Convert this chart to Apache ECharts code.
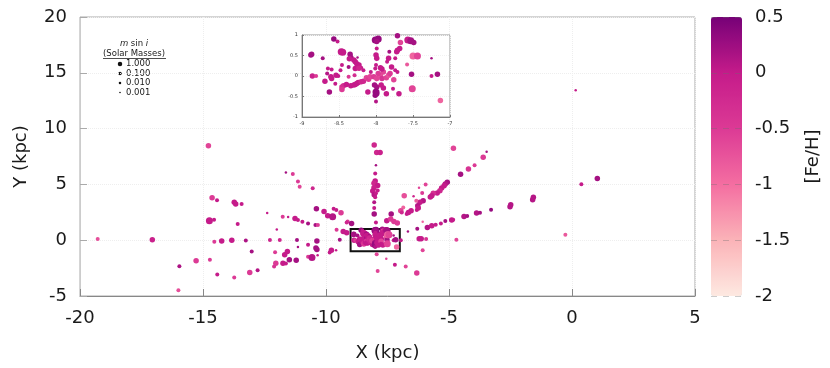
<!DOCTYPE html>
<html>
<head>
<meta charset="utf-8">
<script src="https://cdn.jsdelivr.net/npm/echarts@6/dist/echarts.min.js"></script>
<style>
  html, body { margin: 0; background: #fff; }
  #chart { width: 830px; height: 368px; }
</style>
</head>
<body>
<div id="chart"></div>
<script>
// each point: [X (kpc), Y (kpc), m sin i (solar masses), [Fe/H]]
var outerPoints = [
  [-14.78, 8.46, 0.1, -0.6], [-19.28, 0.1, 0.01, -0.7], [-17.06, 0.04, 0.1, -0.1],
  [-15.96, -2.33, 0.01, 0.15], [-16.0, -4.49, 0.01, -0.7], [-15.28, -1.85, 0.1, -0.5],
  [-14.74, 1.74, 1, 0], [-14.55, 1.83, 0.01, 0], [-14.63, 3.81, 0.1, -0.5],
  [-14.43, 3.57, 0.01, 0], [-14.54, -0.14, 0.01, -0.5], [-14.24, -0.08, 0.1, 0],
  [-13.83, 0.0, 0.1, 0], [-13.26, -0.03, 0.01, 0.15], [-14.72, -1.76, 0.01, -0.5],
  [-14.42, -3.08, 0.01, 0], [-13.73, -3.35, 0.01, -0.5], [-13.1, -2.9, 0.1, -0.5],
  [-12.78, -2.69, 0.01, 0.1], [-13.02, -1.01, 0.01, 0.2], [-13.73, 3.39, 0.1, 0],
  [-13.67, 3.24, 0.1, 0], [-13.43, 3.24, 0.01, 0], [-13.59, 1.45, 0.01, 0],
  [-12.39, 2.44, 0.001, 0], [-12.0, 0.96, 0.001, 0], [-12.28, 0.01, 0.01, -0.2],
  [-11.88, 0.01, 0.01, -0.2], [-11.18, 0.02, 0.01, 0.2], [-10.37, -0.08, 0.1, 0.2],
  [-11.63, 6.06, 0.001, 0.2], [-11.35, 5.94, 0.01, -0.5], [-11.14, 5.25, 0.01, -0.5],
  [-11.07, 4.8, 0.01, -0.6], [-10.54, 4.65, 0.01, -0.2], [-11.76, 2.1, 0.01, -0.5],
  [-11.54, 2.08, 0.001, 0], [-11.26, 1.95, 0.1, 0], [-11.14, 1.81, 0.01, 0],
  [-10.96, 1.65, 0.01, 0], [-10.73, 1.5, 0.01, 0.2], [-10.43, 1.36, 0.01, 0.2],
  [-10.33, 1.36, 0.01, -0.5], [-10.39, 2.82, 0.1, 0.2], [-10.08, 2.58, 0.1, 0],
  [-9.93, 2.19, 0.1, 0], [-9.73, 2.1, 1, 0.1], [-9.69, 2.82, 0.01, 0],
  [-9.58, 2.71, 0.01, 0], [-9.39, 2.46, 0.1, -0.5], [-9.12, 1.68, 0.01, -0.5],
  [-9.57, 0.94, 0.01, -0.5], [-9.3, 0.78, 0.1, 0], [-9.16, 0.67, 0.1, 0],
  [-9.44, 0.04, 0.01, 0.2], [-11.14, -0.62, 0.001, 0.2], [-10.73, -0.41, 0.01, 0],
  [-10.41, -0.71, 0.1, 0.2], [-10.37, -0.84, 0.1, 0.2], [-11.57, -1.01, 0.1, 0],
  [-11.68, -1.31, 0.1, 0], [-12.07, -1.07, 0.01, -0.5], [-12.04, -2.06, 0.1, -0.5],
  [-12.11, -2.36, 0.01, -0.4], [-11.75, -2.06, 0.1, 0], [-11.63, -2.09, 0.01, 0],
  [-11.49, -1.76, 0.1, 0.2], [-11.21, -1.79, 0.1, 0.2], [-10.73, -1.49, 0.01, -0.5],
  [-10.57, -1.55, 1, 0.1], [-10.34, -1.34, 0.001, 0], [-9.85, -1.1, 0.01, 0],
  [-9.78, -0.89, 0.1, 0], [-9.59, -0.89, 0.001, 0], [-9.16, 1.59, 0.01, -0.2]
];

var armPoints = [
  [-8.96, 1.5, 0.1, 0.2], [-7.94, -1.25, 0.01, -0.6], [-7.55, -1.67, 0.001, -0.6],
  [-7.9, -2.75, 0.01, -0.6], [-7.2, -2.21, 0.01, 0], [-6.76, -2.36, 0.01, -0.6],
  [-6.31, -2.93, 0.1, -0.5], [-6.67, 0.78, 0.001, 0.2], [-6.29, 1.02, 0.01, 0.2],
  [-6.21, 0.13, 0.1, 0], [-6.13, 0.13, 0.1, 0], [-5.93, 0.1, 0.01, -0.4],
  [-6.96, 0.0, 0.01, 0], [-6.07, -0.89, 0.01, -0.6], [-4.7, 0.04, 0.01, -0.6],
  [-0.27, 0.49, 0.01, -0.8], [0.38, 5.01, 0.01, 0], [0.15, 13.43, 0.001, 0],
  [1.03, 5.52, 0.1, 0.2],
  [-8.04, 8.52, 0.1, -0.2], [-7.94, 7.86, 0.1, -0.2], [-7.8, 7.86, 0.1, -0.1],
  [-7.97, 6.72, 0.001, 0.2], [-8.0, 5.97, 0.01, 0], [-8.0, 5.3, 0.1, 0],
  [-8.05, 5.1, 0.1, -0.2], [-7.9, 4.9, 0.1, 0], [-8.05, 4.7, 0.1, -0.1],
  [-8.1, 4.4, 0.1, 0], [-7.9, 4.45, 0.01, 0], [-8.04, 4.08, 0.1, 0.1],
  [-7.97, 4.2, 0.01, 0], [-8.0, 3.84, 0.01, 0], [-8.04, 3.39, 0.01, 0.1],
  [-8.04, 2.89, 0.01, 0], [-8.04, 2.35, 0.1, 0.2], [-7.97, 1.59, 0.01, 0],
  [-4.82, 8.25, 0.1, -0.6], [-3.47, 7.92, 0.001, 0.2], [-3.61, 7.44, 0.1, -0.5],
  [-3.96, 6.72, 0.01, -0.5], [-4.21, 6.39, 0.1, -0.4], [-4.53, 5.91, 0.1, 0.2],
  [-5.07, 5.19, 0.1, 0.2], [-5.15, 5.04, 0.1, 0.1], [-5.2, 4.89, 0.1, 0],
  [-5.3, 4.68, 0.1, 0], [-5.37, 4.44, 0.1, -0.2], [-5.48, 4.24, 0.1, 0],
  [-5.64, 4.2, 0.1, -0.3], [-5.7, 3.99, 0.1, 0], [-5.76, 3.88, 0.1, 0],
  [-5.95, 4.98, 0.01, -0.6], [-6.22, 4.69, 0.001, -0.6], [-6.09, 4.24, 0.01, -0.5],
  [-6.44, 3.93, 0.001, -0.2], [-6.82, 3.99, 0.1, -0.7], [-6.05, 3.54, 0.1, 0.1],
  [-6.18, 3.39, 0.1, 0], [-6.27, 3.09, 0.1, 0.1], [-6.25, 2.89, 0.1, 0],
  [-6.31, 2.71, 0.01, 0], [-6.33, 3.54, 0.01, -0.8], [-6.54, 2.64, 0.1, 0],
  [-6.65, 2.49, 0.1, 0], [-6.72, 2.35, 0.01, 0], [-6.86, 2.94, 0.01, -0.9],
  [-6.96, 2.64, 0.1, -0.6], [-6.92, 2.49, 0.01, -0.2], [-7.35, 2.35, 0.1, 0.2],
  [-7.53, 1.74, 0.1, 0], [-7.37, 1.9, 0.1, -0.5], [-7.24, 1.68, 0.1, -0.5],
  [-7.1, 1.54, 0.1, -0.5], [-6.07, 1.65, 0.001, -0.9],
  [-5.88, 1.14, 0.1, 0.1], [-5.7, 1.29, 0.1, 0], [-5.54, 1.38, 0.01, 0],
  [-5.33, 1.5, 0.01, 0], [-5.15, 1.72, 0.01, 0.2], [-4.89, 1.81, 0.1, 0],
  [-4.83, 1.83, 0.01, 0], [-4.39, 2.13, 0.1, 0.1], [-4.26, 2.17, 0.01, 0.2],
  [-3.88, 2.44, 0.1, 0.1], [-3.74, 2.46, 0.01, 0.2], [-3.29, 2.73, 0.01, 0.3],
  [-2.49, 3.18, 0.1, 0.1], [-2.52, 3.0, 0.1, 0.1], [-1.57, 3.84, 0.1, 0.1],
  [-1.6, 3.63, 0.1, 0.1]
];

var centralPoints = [
  [-8.57, 0.9, 0.1, 0.3], [-8.52, 0.84, 0.01, 0], [-8.88, 0.51, 0.1, 0.2],
  [-8.87, 0.53, 0.1, 0.2], [-8.72, 0.43, 0.01, 0.2], [-8.86, 0.0, 0.1, -0.1],
  [-8.81, 0.0, 0.01, -0.5], [-8.69, -0.13, 0.1, 0], [-8.65, 0.18, 0.01, 0],
  [-8.6, 0.16, 0.01, 0], [-8.66, 0.06, 0.01, 0.1], [-8.61, -0.02, 0.1, 0],
  [-8.6, -0.06, 0.1, 0], [-8.54, 0.02, 0.1, 0], [-8.51, 0.0, 0.01, 0],
  [-8.63, -0.39, 0.1, 0.2], [-8.55, -0.19, 0.01, 0], [-8.47, 0.59, 1, 0],
  [-8.45, 0.58, 1, 0], [-8.46, 0.27, 0.01, 0], [-8.48, 0.14, 0.01, 0],
  [-8.46, -0.27, 0.1, -0.4], [-8.44, -0.24, 0.1, -0.3], [-8.46, -0.33, 0.1, -0.5],
  [-8.4, -0.21, 0.1, 0], [-8.35, 0.53, 0.1, 0.2], [-8.34, 0.45, 0.1, 0.2],
  [-8.36, 0.42, 0.1, 0], [-8.37, 0.22, 0.01, 0.2], [-8.37, -0.02, 0.01, -0.5],
  [-8.34, -0.24, 0.1, 0], [-8.3, -0.22, 0.1, 0], [-8.28, -0.21, 0.1, 0],
  [-8.26, -0.18, 0.1, 0], [-8.24, -0.16, 0.1, 0], [-8.3, 0.39, 0.1, 0],
  [-8.28, 0.35, 0.1, 0], [-8.26, 0.3, 0.1, 0], [-8.23, 0.27, 0.1, 0],
  [-8.2, 0.2, 0.01, 0], [-8.17, 0.14, 0.01, 0], [-8.25, 0.45, 0.001, 0.2],
  [-8.28, 0.18, 0.1, 0], [-8.23, 0.19, 0.1, -0.2], [-8.29, 0.02, 0.01, -0.3],
  [-8.2, -0.14, 0.1, -0.2], [-8.17, -0.13, 0.1, -0.2], [-8.11, -0.39, 0.1, 0],
  [-8.07, 0.1, 0.01, 0], [-8.13, -0.04, 0.1, -0.6], [-8.1, -0.08, 0.1, -0.5],
  [-8.08, -0.02, 0.1, -0.6], [-8.01, 0.88, 1, 0.3], [-7.97, 0.9, 1, 0.3],
  [-7.99, 0.84, 0.1, 0.2], [-7.99, 0.67, 0.01, 0], [-8.0, 0.51, 0.1, 0],
  [-7.99, 0.43, 0.1, 0], [-8.0, 0.27, 0.01, 0], [-8.01, 0.18, 0.01, 0],
  [-8.03, -0.02, 0.1, -0.5], [-7.99, -0.06, 0.1, -0.6], [-7.94, 0.02, 0.1, -0.7],
  [-7.97, 0.06, 0.1, -0.5], [-7.9, 0.1, 0.1, -0.6], [-7.92, -0.06, 0.1, -0.4],
  [-7.86, -0.04, 0.1, -0.6], [-7.83, 0.02, 0.1, -0.7], [-7.81, 0.06, 0.1, -0.5],
  [-8.02, -0.22, 0.1, 0.2], [-7.99, -0.27, 0.1, 0.2], [-8.0, -0.39, 1, 0.3],
  [-8.01, -0.47, 0.1, 0.3], [-7.99, -0.43, 0.1, 0.3], [-8.0, -0.62, 0.01, 0.1],
  [-7.93, -0.22, 0.1, 0], [-7.9, -0.29, 0.1, 0], [-7.86, -0.43, 0.1, 0],
  [-7.94, 0.2, 0.1, 0], [-7.92, 0.17, 0.1, 0], [-7.85, 0.35, 0.01, 0],
  [-7.79, 0.22, 0.1, 0], [-7.82, 0.59, 0.01, 0.2], [-7.83, 0.43, 0.1, 0],
  [-7.71, 0.98, 0.1, 0.2], [-7.67, 0.82, 0.1, -0.6], [-7.71, 0.63, 0.1, 0],
  [-7.68, 0.67, 0.1, 0], [-7.72, 0.59, 0.1, 0], [-7.74, 0.14, 0.01, 0],
  [-7.71, 0.1, 0.01, 0], [-7.74, 0.43, 0.01, 0], [-7.76, -0.09, 0.1, -0.6],
  [-7.77, -0.31, 0.01, 0], [-7.69, -0.43, 0.1, 0], [-7.57, 0.88, 1, 0],
  [-7.53, 0.86, 1, 0.2], [-7.49, 0.82, 0.1, 0.2], [-7.58, 0.28, 0.01, -0.8],
  [-7.52, 0.04, 0.1, 0.2], [-7.51, -0.31, 1, -0.6], [-7.5, 0.49, 1, -0.9],
  [-7.44, 0.49, 1, -0.6], [-7.25, 0.43, 0.001, 0.2], [-7.25, 0.0, 0.01, 0],
  [-7.17, 0.04, 0.1, 0.2], [-7.13, -0.6, 0.1, -0.9]
];

var legendMasses = [1, 0.1, 0.01, 0.001];
var insetX = [-9, -7];
var insetY = [-1, 1];
var fehRange = [-2, 0.5];
var fehColors = ['#fde9e1', '#fbb3b8', '#f46ea1', '#dc3a95', '#c51b8a', '#760177'];

var allPoints = outerPoints.concat(armPoints, centralPoints);
var insetPoints = allPoints.filter(function (p) {
  return p[0] >= insetX[0] && p[0] <= insetX[1] && p[1] >= insetY[0] && p[1] <= insetY[1];
});

function dotSize(m) {
  return 7 + 1.5 * Math.log10(m);
}

var font = 'DejaVu Sans';
var txt = '#1a1a1a';

var chartDom = document.getElementById('chart');
var chart = echarts.init(chartDom);

// legend for m sin i
var legendItems = [];
legendMasses.forEach(function (m, i) {
  var y = 64 + i * 9.5;
  legendItems.push({
    type: 'circle',
    shape: { cx: 120, cy: y, r: dotSize(m) * 0.32 },
    style: { fill: '#111' }
  });
  legendItems.push({
    type: 'text',
    x: 126, y: y,
    style: { text: m.toFixed(3), font: '8.5px ' + font, fill: txt, verticalAlign: 'middle' }
  });
});

var option = {
  backgroundColor: '#fff',
  animation: false,
  grid: [
    { left: 80, top: 17, width: 615, height: 279, show: true, borderColor: '#aaa', borderWidth: 1 },
    { left: 302, top: 35, width: 148, height: 82, show: true, borderColor: '#999', borderWidth: 1, backgroundColor: '#fff', z: 3 },
    { left: 711, top: 17, width: 31, height: 279 }
  ],
  xAxis: [
    {
      gridIndex: 0, type: 'value', min: -20, max: 5, interval: 5,
      name: 'X (kpc)', nameLocation: 'middle', nameGap: 48,
      nameTextStyle: { fontFamily: font, fontSize: 18, color: txt },
      axisLine: { show: true, onZero: false, lineStyle: { color: '#888' } },
      axisTick: { inside: true, length: 7, lineStyle: { color: '#888' } },
      axisLabel: { fontFamily: font, fontSize: 18, color: txt, margin: 13 },
      splitLine: { lineStyle: { color: '#eee', type: 'dotted' } }
    },
    {
      gridIndex: 1, type: 'value', min: insetX[0], max: insetX[1], interval: 0.5, z: 3,
      axisLine: { show: true, onZero: false, lineStyle: { color: '#777' } },
      axisTick: { inside: true, length: 2, lineStyle: { color: '#777' } },
      axisLabel: { fontFamily: font, fontSize: 5, color: '#333', margin: 4 },
      splitLine: { lineStyle: { color: '#f2f2f2', type: 'dotted' } }
    },
    { gridIndex: 2, type: 'value', show: false, min: 0, max: 1 }
  ],
  yAxis: [
    {
      gridIndex: 0, type: 'value', min: -5, max: 20, interval: 5,
      name: 'Y (kpc)', nameLocation: 'middle', nameGap: 50,
      nameTextStyle: { fontFamily: font, fontSize: 18, color: txt },
      axisLine: { show: true, onZero: false, lineStyle: { color: '#ccc' } },
      axisTick: { inside: true, length: 7, lineStyle: { color: '#aaa' } },
      axisLabel: { fontFamily: font, fontSize: 18, color: txt, margin: 13 },
      splitLine: { lineStyle: { color: '#eee', type: 'dotted' } }
    },
    {
      gridIndex: 1, type: 'value', min: insetY[0], max: insetY[1], interval: 0.5, z: 3,
      axisLine: { show: true, onZero: false, lineStyle: { color: '#777' } },
      axisTick: { inside: true, length: 2, lineStyle: { color: '#777' } },
      axisLabel: { fontFamily: font, fontSize: 5, color: '#333', margin: 4 },
      splitLine: { lineStyle: { color: '#f2f2f2', type: 'dotted' } }
    },
    {
      gridIndex: 2, type: 'value', min: fehRange[0], max: fehRange[1], interval: 0.5,
      position: 'right', z: 6,
      name: '[Fe/H]', nameLocation: 'middle', nameGap: 62, nameRotate: 90,
      nameTextStyle: { fontFamily: font, fontSize: 18, color: txt },
      axisLine: { show: false },
      axisTick: { show: false },
      axisLabel: { fontFamily: font, fontSize: 18, color: txt, margin: 13 },
      splitLine: { show: true, lineStyle: { color: 'rgba(110,110,110,0.35)', type: [6, 6] } }
    }
  ],
  visualMap: {
    type: 'continuous',
    min: fehRange[0], max: fehRange[1],
    dimension: 3,
    seriesIndex: [0, 1],
    calculable: false,
    orient: 'vertical',
    left: 711, top: 17,
    itemWidth: 31, itemHeight: 279,
    padding: 0,
    text: null,
    inRange: { color: fehColors }
  },
  graphic: [
    {
      type: 'text', x: 134, y: 43.5,
      style: {
        text: '{i|m} sin {i|i}', font: '8.5px ' + font, fill: txt, align: 'center', verticalAlign: 'middle',
        rich: { i: { fontStyle: 'italic', fontFamily: font, fontSize: 8.5, fill: txt } }
      }
    },
    {
      type: 'text', x: 134, y: 53.5,
      style: { text: '(Solar Masses)', font: '8.5px ' + font, fill: txt, align: 'center', verticalAlign: 'middle' }
    },
    {
      type: 'line', shape: { x1: 103, y1: 58.5, x2: 166, y2: 58.5 },
      style: { stroke: '#222', lineWidth: 0.8 }
    }
  ].concat(legendItems),
  series: [
    {
      type: 'scatter', xAxisIndex: 0, yAxisIndex: 0,
      data: allPoints,
      symbolSize: function (d) { return dotSize(d[2]); },
      itemStyle: { opacity: 1 },
      markArea: {
        silent: true,
        itemStyle: { color: 'rgba(0,0,0,0)', borderColor: '#111', borderWidth: 2 },
        data: [[{ coord: [insetX[0], insetY[0]] }, { coord: [insetX[1], insetY[1]] }]]
      }
    },
    {
      type: 'scatter', xAxisIndex: 1, yAxisIndex: 1, z: 4,
      data: insetPoints,
      symbolSize: function (d) { return dotSize(d[2]); },
      itemStyle: { opacity: 1 }
    },
    { type: 'scatter', xAxisIndex: 2, yAxisIndex: 2, data: [] }
  ]
};

chart.setOption(option);
window.addEventListener('resize', function () {
  chart.resize();
});
</script>
</body>
</html>
